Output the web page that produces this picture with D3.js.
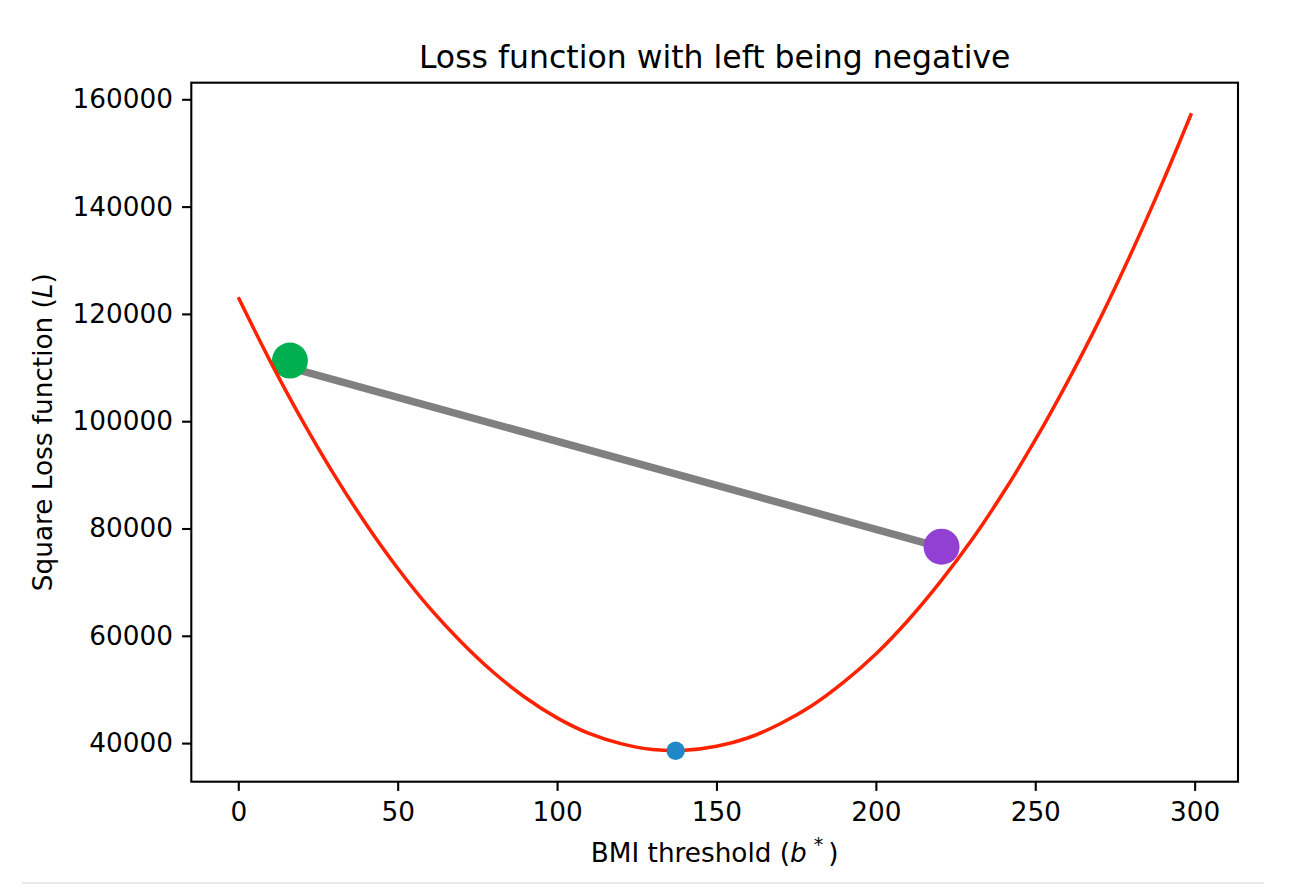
<!DOCTYPE html>
<html>
<head>
<meta charset="utf-8">
<script src="https://cdn.jsdelivr.net/npm/d3@7"></script>
<style>
  body { margin: 0; background: #fff; }
  svg { display: block; font-family: 'DejaVu Sans', sans-serif; }
</style>
</head>
<body>
<div id="chart"></div>
<script>
// loss curve
const bThreshold = [0, 10, 20, 30, 40, 50, 60, 70, 80, 90, 100, 110, 120, 130,
  140, 150, 160, 170, 180, 190, 200, 210, 220, 230, 240, 250, 260, 270, 280, 290, 299]
const squareLoss = [123100, 111200, 100200, 90100, 80900, 72600, 65200, 58800, 53200, 48500,
  44700, 41800, 39900, 38800, 38650, 39400, 41000, 43600, 47000, 51400, 56600,
  62800, 69900, 77800, 86700, 96500, 107200, 118700, 131200, 144600, 157400]

// chord between the two picked thresholds
const chordB = [16.2, 221]
const chordL = [110000, 76400]

// highlighted points: left pick, right pick, minimum
const pointB = [16.2, 220.6, 137.2]
const pointL = [111300, 76600, 38580]
const pointColor = ['#00b050', '#9240d4', '#1f88c6']
const pointRadius = [18, 18, 9.2]

const xTicks = [0, 50, 100, 150, 200, 250, 300]
const yTicks = [40000, 60000, 80000, 100000, 120000, 140000, 160000]

const width = 1296
const height = 892
const box = { left: 191.3, right: 1238, top: 82.7, bottom: 781.7 }
const tickFont = 26.3

const svg = d3.select('#chart')
  .append('svg')
  .attr('width', width)
  .attr('height', height)

const xs = d3.scaleLinear()
  .domain([-14.74, 313.6])
  .range([box.left, box.right])
const ys = d3.scaleLinear()
  .domain([32805, 163094])
  .range([box.bottom, box.top])

// chord (under the markers)
svg.append('line')
  .attr('x1', xs(chordB[0])).attr('y1', ys(chordL[0]))
  .attr('x2', xs(chordB[1])).attr('y2', ys(chordL[1]))
  .attr('stroke', '#808080')
  .attr('stroke-width', 7.5)

const pts = d3.range(pointB.length).map(i => ({
  b: pointB[i], l: pointL[i], c: pointColor[i], r: pointRadius[i]
}))

// big markers first, then the curve, then the minimum dot on top
svg.selectAll('.pick')
  .data(pts.slice(0, 2))
  .join('circle')
  .classed('pick', true)
  .attr('cx', d => xs(d.b))
  .attr('cy', d => ys(d.l))
  .attr('r', d => d.r)
  .attr('fill', d => d.c)

const line = d3.line()
  .x((d, i) => xs(bThreshold[i]))
  .y(d => ys(d))
  .curve(d3.curveCatmullRom)
svg.append('path')
  .datum(squareLoss)
  .attr('d', line)
  .attr('fill', 'none')
  .attr('stroke', '#ff2200')
  .attr('stroke-width', 3.5)

svg.selectAll('.min')
  .data(pts.slice(2))
  .join('circle')
  .classed('min', true)
  .attr('cx', d => xs(d.b))
  .attr('cy', d => ys(d.l))
  .attr('r', d => d.r)
  .attr('fill', d => d.c)

// axes
const xAxis = svg.append('g')
  .attr('transform', `translate(0,${box.bottom})`)
  .call(d3.axisBottom(xs).tickValues(xTicks).tickSize(9.2).tickPadding(11.4).tickSizeOuter(0))
const yAxis = svg.append('g')
  .attr('transform', `translate(${box.left},0)`)
  .call(d3.axisLeft(ys).tickValues(yTicks).tickFormat(d3.format('d')).tickSize(9.2).tickPadding(9.1).tickSizeOuter(0))

for (const ax of [xAxis, yAxis]) {
  ax.select('.domain').remove()
  ax.selectAll('line').attr('stroke', '#000').attr('stroke-width', 2.1)
  ax.selectAll('text')
    .attr('fill', '#000')
    .attr('font-family', 'DejaVu Sans')
    .attr('font-size', tickFont)
}

// spines
svg.append('rect')
  .attr('x', box.left).attr('y', box.top)
  .attr('width', box.right - box.left)
  .attr('height', box.bottom - box.top)
  .attr('fill', 'none')
  .attr('stroke', '#000')
  .attr('stroke-width', 2.1)

// title and labels
const cx = (box.left + box.right) / 2
svg.append('text')
  .attr('x', cx).attr('y', 68)
  .attr('text-anchor', 'middle')
  .attr('font-size', 31.5)
  .text('Loss function with left being negative')

const xl = svg.append('text')
  .attr('x', cx).attr('y', 862)
  .attr('text-anchor', 'middle')
  .attr('font-size', tickFont)
xl.append('tspan').text('BMI threshold (')
xl.append('tspan').attr('font-style', 'italic').text('b')
xl.append('tspan').attr('font-size', 19).attr('dy', -11).attr('dx', 7).text('*')
xl.append('tspan').attr('dy', 11).attr('dx', 5).text(')')

const yl = svg.append('text')
  .attr('transform', `translate(52,${(box.top + box.bottom) / 2}) rotate(-90)`)
  .attr('text-anchor', 'middle')
  .attr('font-size', tickFont)
yl.append('tspan').text('Square Loss function (')
yl.append('tspan').attr('font-style', 'italic').text('L')
yl.append('tspan').text(')')

// thin page rule under the figure
svg.append('rect')
  .attr('x', 22).attr('y', 882)
  .attr('width', 1242).attr('height', 2)
  .attr('fill', '#e9e9e9')
</script>
</body>
</html>
